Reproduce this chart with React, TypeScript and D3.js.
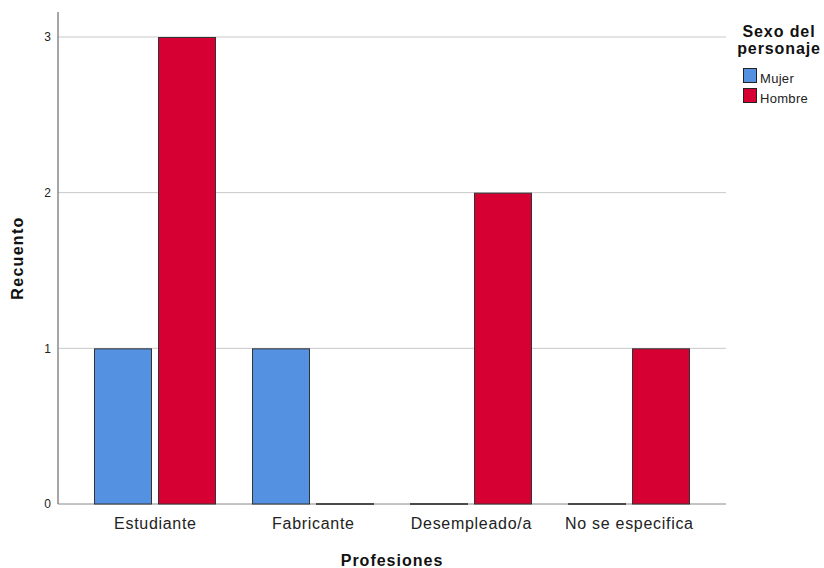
import React from "react";
import * as d3 from "d3";

const categories = ["Estudiante", "Fabricante", "Desempleado/a", "No se especifica"];
const seriesNames = ["Mujer", "Hombre"];
const mujer = [1, 1, 0, 0];
const hombre = [3, 0, 2, 1];
const yTicks = [0, 1, 2, 3];
const colors = ["#5591E1", "#D70032"];

export default function App() {
  const W = 824, H = 568;
  const left = 58, right = 726, top = 12, bottom = 504;
  const pad = 36 / 158;
  const x = d3.scaleBand<string>().domain(categories).range([left, right]).paddingInner(pad).paddingOuter(pad);
  const xs = d3.scaleBand<string>().domain(seriesNames).range([0, x.bandwidth()]).paddingInner(6 / 64).paddingOuter(0);
  const y = d3.scaleLinear().domain([0, 3]).range([bottom, 37]);
  const data = [mujer, hombre];
  const font = "'Liberation Sans', Arial, sans-serif";
  return (
    <svg width={W} height={H} style={{ position: "absolute", left: 0, top: 0 }} fontFamily={font}>
      <rect width={W} height={H} fill="#fff" />
      {yTicks.map((t) => (
        <g key={t}>
          {t > 0 && <line x1={left} x2={right} y1={y(t)} y2={y(t)} stroke="#c8c8c8" strokeWidth={1} />}
          <text x={51} y={y(t)} dy="0.35em" textAnchor="end" fontSize={12} fill="#222">{t}</text>
        </g>
      ))}
      <line x1={left} x2={right} y1={bottom} y2={bottom} stroke="#888" strokeWidth={1} />
      <line x1={left} x2={left} y1={top} y2={bottom} stroke="#888" strokeWidth={1.5} />
      {categories.map((c, i) => (
        <g key={c}>
          {seriesNames.map((s, j) => {
            const v = data[j][i];
            const bx = (x(c) as number) + (xs(s) as number);
            const bw = xs.bandwidth();
            if (v === 0) {
              return <line key={s} x1={bx} x2={bx + bw} y1={bottom} y2={bottom} stroke="#222" strokeWidth={1.5} />;
            }
            return (
              <rect key={s} x={bx + 0.5} y={y(v) + 0.5} width={bw - 1} height={bottom - y(v) - 0.5}
                fill={colors[j]} stroke="#333" strokeWidth={1} />
            );
          })}
          <text x={(x(c) as number) + x.bandwidth() / 2 + 0.4} y={529} textAnchor="middle" fontSize={16} letterSpacing={0.7} fill="#222">{c}</text>
        </g>
      ))}
      <text x={(left + right) / 2} y={566} textAnchor="middle" fontSize={16} letterSpacing={1} fontWeight="bold" fill="#111">Profesiones</text>
      <text transform={`translate(23, ${258}) rotate(-90)`} textAnchor="middle" fontSize={16} letterSpacing={1.3} fontWeight="bold" fill="#111">Recuento</text>
      <text x={779} y={37} textAnchor="middle" fontSize={16} letterSpacing={0.9} fontWeight="bold" fill="#111">Sexo del</text>
      <text x={779} y={54} textAnchor="middle" fontSize={16} letterSpacing={0.9} fontWeight="bold" fill="#111">personaje</text>
      {seriesNames.map((s, j) => (
        <g key={s}>
          <rect x={743.5} y={68.5 + j * 20} width={13} height={14} fill={colors[j]} stroke="#222" strokeWidth={1} />
          <text x={760} y={83 + j * 20} fontSize={13} letterSpacing={0.3} fill="#222">{s}</text>
        </g>
      ))}
    </svg>
  );
}
